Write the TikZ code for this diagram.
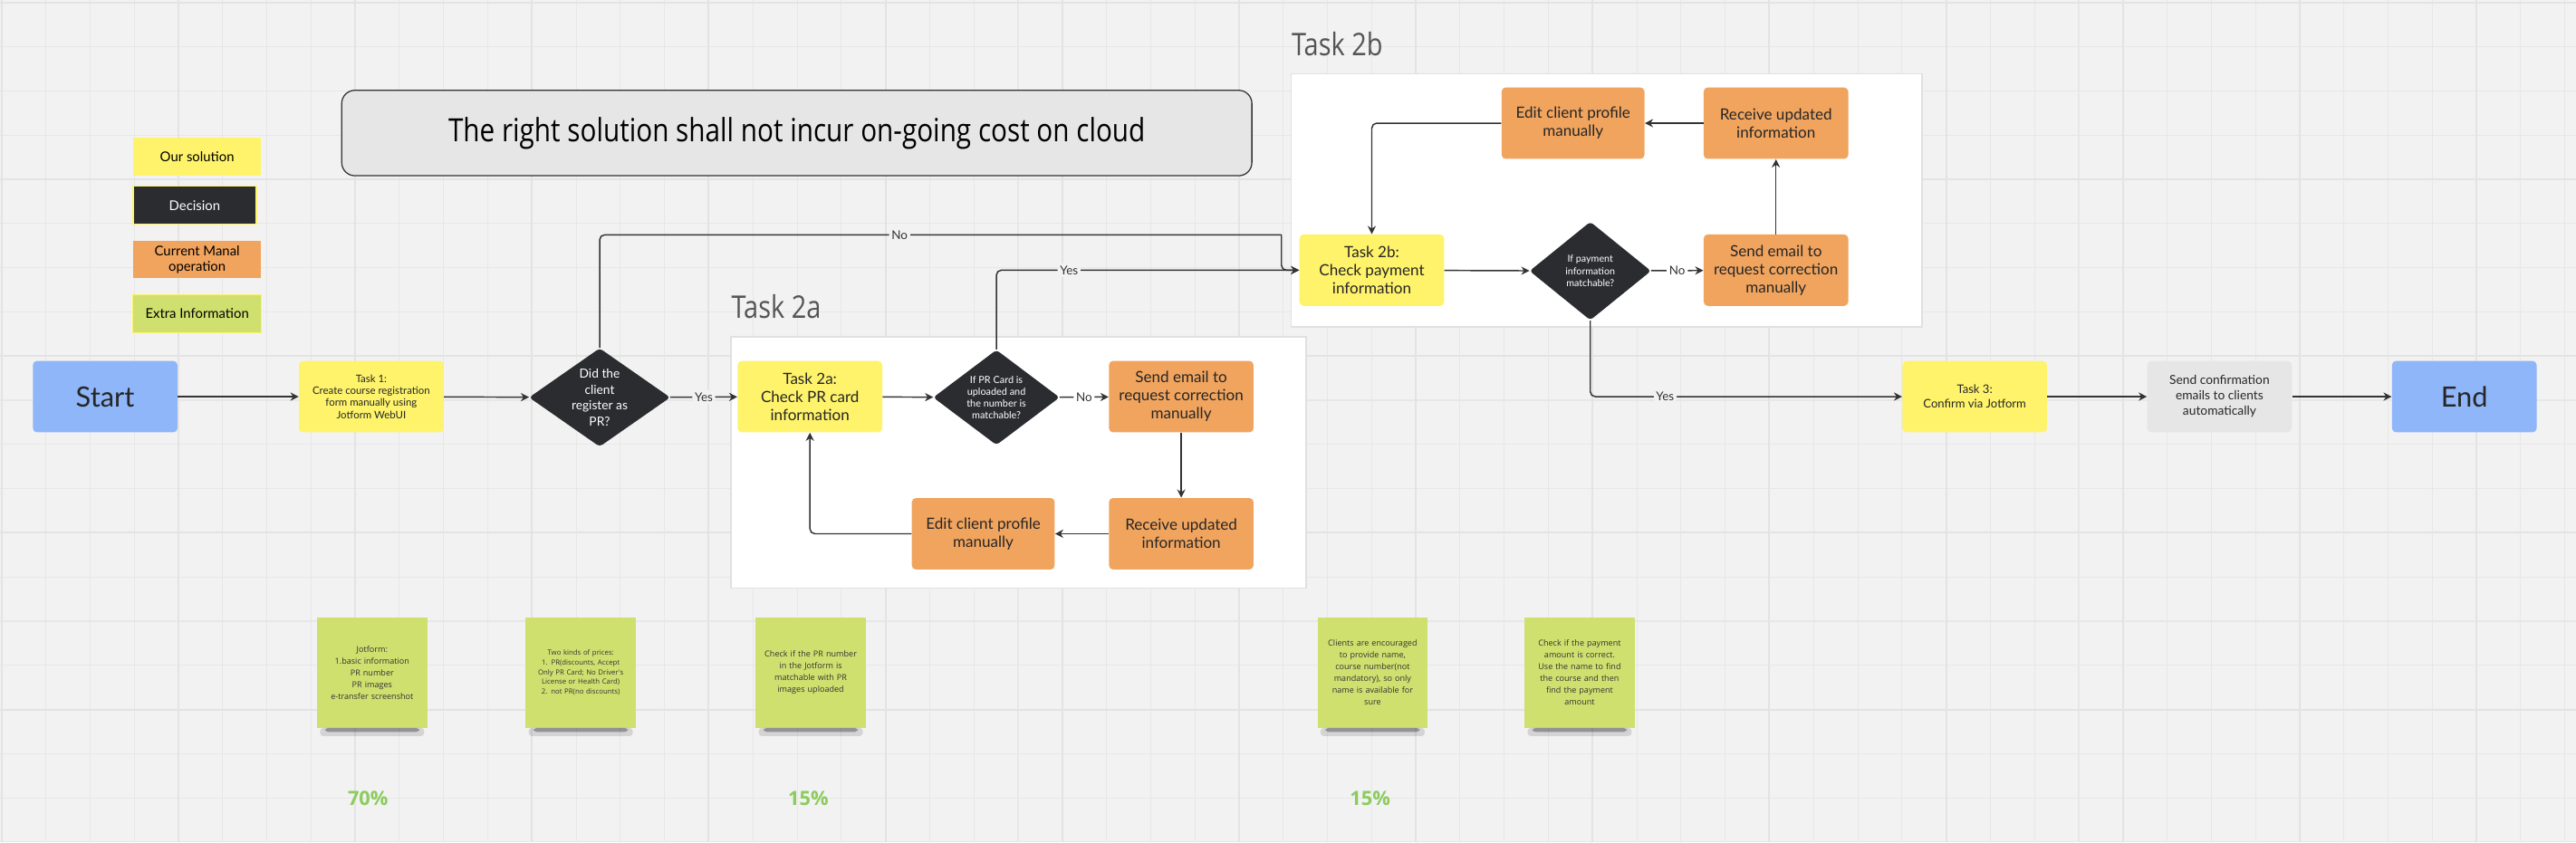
\documentclass[tikz,border=0pt]{standalone}
\usepackage{fontspec}
\setmainfont{Lato}
\newfontfamily\notefont{Open Sans}
\newfontfamily\headfont[FakeStretch=0.84]{Open Sans}
\usetikzlibrary{shapes.geometric,arrows.meta}

\definecolor{canvas}{HTML}{F2F2F2}
\definecolor{gridline}{HTML}{E7E7E7}
\definecolor{solution}{HTML}{FEF36B}
\definecolor{manual}{HTML}{F1A45E}
\definecolor{decision}{HTML}{2B2C30}
\definecolor{terminal}{HTML}{8FB6F8}
\definecolor{auto}{HTML}{E6E6E6}
\definecolor{extra}{HTML}{D0E06F}
\definecolor{share}{HTML}{8DCB5E}
\definecolor{wire}{HTML}{333333}
\definecolor{titlegray}{HTML}{555555}

\tikzset{
  box/.style={rounded corners=2.5pt,minimum width=88pt,minimum height=43.5pt,
    align=center,inner sep=1pt,text=black!85},
  ours/.style={box,fill=solution,font=\fontsize{9.4}{11}\selectfont},
  manualop/.style={box,fill=manual,font=\fontsize{9.4}{11}\selectfont},
  termbox/.style={box,fill=terminal,font=\fontsize{17}{20}\selectfont},
  dec/.style={diamond,fill=decision,rounded corners=2pt,inner sep=0pt},
  declabel/.style={text=white,align=center},
  flow/.style={draw=wire,line width=0.8pt,rounded corners=3pt,
    -{Stealth[length=5pt,width=5pt]}},
  lbl/.style={fill=canvas,inner sep=1.5pt,text=wire,font=\fontsize{7.4}{8}\selectfont},
  legend/.style={minimum width=78pt,minimum height=23pt,align=center,
    inner sep=1pt,font=\fontsize{8.2}{9.4}\selectfont},
  group/.style={fill=white,draw=black!12,line width=0.8pt},
  grouptitle/.style={anchor=base west,text=titlegray,inner sep=0pt,
    font=\headfont\fontsize{19}{21}\selectfont},
  note/.style={fill=extra,minimum width=67pt,minimum height=67pt,inner sep=2pt,
    text width=63pt,align=center,text=black!80,
    font=\notefont\fontsize{5}{7.2}\selectfont},
  shade/.style={black,opacity=0.12,rounded corners=2pt},
  pct/.style={text=share,font=\notefont\bfseries\fontsize{12}{14}\selectfont}
}

\begin{document}
\begin{tikzpicture}[x=1pt,y=-1pt]
% canvas and grid
\fill[canvas] (0,0) rectangle (1568,513);
\useasboundingbox (0,0) rectangle (1568,513);
\foreach \i in {0,...,58}
  \draw[gridline,line width=0.6pt] (1+\i*26.9,0) -- (1+\i*26.9,513);
\foreach \j in {0,...,19}
  \draw[gridline,line width=0.6pt] (0,1.6+\j*26.9) -- (1568,1.6+\j*26.9);
\foreach \i in {0,...,14}
  \draw[black!11,line width=1.1pt] (1+\i*107.6,0) -- (1+\i*107.6,513);
\foreach \j in {0,...,4}
  \draw[black!11,line width=1.1pt] (0,1.6+\j*107.6) -- (1568,1.6+\j*107.6);

% legend
\node[legend,fill=solution] (legsol) at (120,95.5) {Our solution};
\node[legend,fill=decision,draw=solution,line width=0.7pt,text=white,minimum width=75pt] (legdec) at (118.5,125) {Decision};
\node[legend,fill=manual] (legman) at (120,158) {Current Manal\\operation};
\node[legend,fill=extra,draw=solution,line width=0.5pt] (legext) at (120,191) {Extra Information};

% goal banner
\node[draw=wire,fill=auto,rounded corners=8pt,line width=0.7pt,minimum width=554pt,
  minimum height=52pt,font=\headfont\fontsize{19.5}{22}\selectfont] (goal) at (485,81)
  {The right solution shall not incur on-going cost on cloud};

% groups
\draw[group] (445,205) rectangle (795,358);
\node[grouptitle] (title2a) at (445,194) {Task 2a};
\draw[group] (786,45) rectangle (1170,199);
\node[grouptitle] (title2b) at (786,34) {Task 2b};

% main flow
\node[termbox] (start) at (64,241.5) {Start};
\node[ours,font=\fontsize{6.3}{7.4}\selectfont] (t1) at (226,241.5) {Task 1:\\Create course registration\\form manually using\\Jotform WebUI};
\node[dec,minimum width=86pt,minimum height=60pt,
  label={[declabel,font=\fontsize{7.6}{9.6}\selectfont]center:Did the\\client\\register as\\PR?}] (d1) at (365,242) {};
\node[ours] (t2a) at (493,241.5) {Task 2a:\\Check PR card\\information};
\node[dec,minimum width=77pt,minimum height=58pt,
  label={[declabel,font=\fontsize{6}{7.3}\selectfont]center:If PR Card is\\uploaded and\\the number is\\matchable?}] (d2) at (606.5,242) {};
\node[manualop] (se2a) at (719,241.5) {Send email to\\request correction\\manually};
\node[manualop] (ru2a) at (719,325) {Receive updated\\information};
\node[manualop,minimum width=87pt] (ec2a) at (598.5,325) {Edit client profile\\manually};

\node[ours] (t2b) at (835,164.5) {Task 2b:\\Check payment\\information};
\node[dec,minimum width=74pt,minimum height=60pt,
  label={[declabel,font=\fontsize{5.9}{7.3}\selectfont]center:If payment\\information\\matchable?}] (d3) at (968,165) {};
\node[manualop] (se2b) at (1081,164.5) {Send email to\\request correction\\manually};
\node[manualop] (ru2b) at (1081,75) {Receive updated\\information};
\node[manualop,minimum width=87pt] (ec2b) at (957.5,75) {Edit client profile\\manually};

\node[ours,font=\fontsize{7.2}{8.8}\selectfont] (t3) at (1202,241.5) {Task 3:\\Confirm via Jotform};
\node[box,fill=auto,font=\fontsize{7.6}{9.4}\selectfont] (sc) at (1351,241.5) {Send confirmation\\emails to clients\\automatically};
\node[termbox] (finish) at (1500,241.5) {End};

% connectors
\coordinate (nobend) at (780,143);
\draw[flow] (start) -- (t1);
\draw[flow] (t1) -- (d1);
\draw[flow] (d1) -- node[lbl]{Yes} (t2a);
\draw[flow] (t2a) -- (d2);
\draw[flow] (d2) -- node[lbl,fill=white]{No} (se2a);
\draw[flow] (se2a) -- (ru2a);
\draw[flow] (ru2a) -- (ec2a);
\draw[flow] (ec2a.west) -| (t2a.south);
\draw[flow,-] (d1.north) |- node[lbl,pos=0.72]{No} (nobend);
\draw[flow] (nobend) |- (t2b.west);
\draw[flow] (d2.north) |- node[lbl,pos=0.62]{Yes} (t2b.west);
\draw[flow] (t2b) -- (d3);
\draw[flow] (d3) -- node[lbl,fill=white]{No} (se2b);
\draw[flow] (se2b) -- (ru2b);
\draw[flow] (ru2b) -- (ec2b);
\draw[flow] (ec2b.west) -| (t2b.north);
\draw[flow] (d3.south) |- node[lbl,pos=0.62]{Yes} (t3.west);
\draw[flow] (t3) -- (sc);
\draw[flow] (sc) -- (finish);

% sticky notes
\node[note] (n1) at (226.5,409.5) {Jotform:\\1.basic information\\PR number\\PR images\\e-transfer screenshot\\[7pt]};
\node[note,font=\notefont\fontsize{4.3}{6}\selectfont] (n2) at (353.5,409.5) {Two kinds of prices:\\1. PR(discounts, Accept\\Only PR Card; No Driver's\\License or Health Card)\\2. not PR(no discounts)\\[7pt]};
\node[note] (n3) at (493.5,409.5) {Check if the PR number\\in the Jotform is\\matchable with PR\\images uploaded\\[8pt]};
\node[note] (n4) at (835.5,409.5) {Clients are encouraged\\to provide name,\\course number(not\\mandatory), so only\\name is available for\\sure\\[4pt]};
\node[note] (n5) at (961.5,409.5) {Check if the payment\\amount is correct.\\Use the name to find\\the course and then\\find the payment\\amount\\[4pt]};
\foreach \n in {n1,n2,n3,n4,n5} {
  \fill[shade] ([xshift=2pt]\n.south west) rectangle ([xshift=-2pt,yshift=-5pt]\n.south east);
  \fill[shade,opacity=0.3] ([xshift=5pt]\n.south west) rectangle ([xshift=-5pt,yshift=-2.5pt]\n.south east);
}

\node[pct] (p1) at (224,486) {70\%};
\node[pct] (p2) at (492,486) {15\%};
\node[pct] (p3) at (834,486) {15\%};
\end{tikzpicture}
\end{document}
